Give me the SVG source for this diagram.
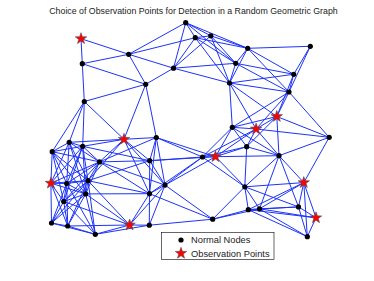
<svg xmlns="http://www.w3.org/2000/svg" xmlns:xlink="http://www.w3.org/1999/xlink" width="374" height="281" viewBox="0 0 374 281">
<style>
.e line{stroke:#1c33fa;stroke-width:1;fill:none}
.nd{fill:#000}
.st{fill:#ff0000;stroke:#505050;stroke-width:0.6}
.t{font-family:"Liberation Sans",Arial,sans-serif;fill:#222}
</style>
<defs>
<path id="star" d="M0,-6 L1.41,-1.94 L5.71,-1.85 L2.28,0.74 L3.53,4.85 L0,2.4 L-3.53,4.85 L-2.28,0.74 L-5.71,-1.85 L-1.41,-1.94 Z"/>
</defs>
<rect width="374" height="281" fill="#fff"/>
<text class="t" x="193.5" y="14" font-size="8.8" text-anchor="middle">Choice of Observation Points for Detection in a Random Geometric Graph</text>
<g id="connectors" class="e">
<line x1="81" y1="38.7" x2="128.7" y2="54.3"/>
<line x1="81" y1="38.7" x2="82.3" y2="63.7"/>
<line x1="128.7" y1="54.3" x2="82.3" y2="63.7"/>
<line x1="128.7" y1="54.3" x2="185.7" y2="22.7"/>
<line x1="128.7" y1="54.3" x2="173.5" y2="68.2"/>
<line x1="128.7" y1="54.3" x2="145.7" y2="84.3"/>
<line x1="128.7" y1="54.3" x2="195.3" y2="37.7"/>
<line x1="82.3" y1="63.7" x2="145.7" y2="84.3"/>
<line x1="82.3" y1="63.7" x2="84.3" y2="101.5"/>
<line x1="185.7" y1="22.7" x2="173.5" y2="68.2"/>
<line x1="185.7" y1="22.7" x2="195.3" y2="37.7"/>
<line x1="185.7" y1="22.7" x2="210.8" y2="35.8"/>
<line x1="185.7" y1="22.7" x2="247.7" y2="48.3"/>
<line x1="185.7" y1="22.7" x2="235.7" y2="63.3"/>
<line x1="173.5" y1="68.2" x2="145.7" y2="84.3"/>
<line x1="173.5" y1="68.2" x2="195.3" y2="37.7"/>
<line x1="173.5" y1="68.2" x2="210.8" y2="35.8"/>
<line x1="173.5" y1="68.2" x2="235.7" y2="63.3"/>
<line x1="173.5" y1="68.2" x2="229.5" y2="83"/>
<line x1="145.7" y1="84.3" x2="84.3" y2="101.5"/>
<line x1="145.7" y1="84.3" x2="124" y2="139.3"/>
<line x1="145.7" y1="84.3" x2="156.3" y2="137.5"/>
<line x1="84.3" y1="101.5" x2="52.2" y2="151.7"/>
<line x1="84.3" y1="101.5" x2="69.2" y2="142.3"/>
<line x1="84.3" y1="101.5" x2="82.7" y2="146.3"/>
<line x1="84.3" y1="101.5" x2="124" y2="139.3"/>
<line x1="195.3" y1="37.7" x2="210.8" y2="35.8"/>
<line x1="195.3" y1="37.7" x2="247.7" y2="48.3"/>
<line x1="195.3" y1="37.7" x2="235.7" y2="63.3"/>
<line x1="195.3" y1="37.7" x2="229.5" y2="83"/>
<line x1="210.8" y1="35.8" x2="247.7" y2="48.3"/>
<line x1="210.8" y1="35.8" x2="235.7" y2="63.3"/>
<line x1="210.8" y1="35.8" x2="229.5" y2="83"/>
<line x1="247.7" y1="48.3" x2="310.3" y2="46.3"/>
<line x1="247.7" y1="48.3" x2="235.7" y2="63.3"/>
<line x1="247.7" y1="48.3" x2="293.7" y2="74.3"/>
<line x1="247.7" y1="48.3" x2="229.5" y2="83"/>
<line x1="247.7" y1="48.3" x2="289" y2="92"/>
<line x1="310.3" y1="46.3" x2="293.7" y2="74.3"/>
<line x1="310.3" y1="46.3" x2="289" y2="92"/>
<line x1="235.7" y1="63.3" x2="293.7" y2="74.3"/>
<line x1="235.7" y1="63.3" x2="229.5" y2="83"/>
<line x1="235.7" y1="63.3" x2="289" y2="92"/>
<line x1="293.7" y1="74.3" x2="229.5" y2="83"/>
<line x1="293.7" y1="74.3" x2="289" y2="92"/>
<line x1="293.7" y1="74.3" x2="276.8" y2="116.5"/>
<line x1="229.5" y1="83" x2="289" y2="92"/>
<line x1="229.5" y1="83" x2="276.8" y2="116.5"/>
<line x1="229.5" y1="83" x2="232.3" y2="127.3"/>
<line x1="229.5" y1="83" x2="256.1" y2="129"/>
<line x1="289" y1="92" x2="276.8" y2="116.5"/>
<line x1="289" y1="92" x2="232.3" y2="127.3"/>
<line x1="289" y1="92" x2="256.1" y2="129"/>
<line x1="289" y1="92" x2="329.2" y2="137.3"/>
<line x1="276.8" y1="116.5" x2="232.3" y2="127.3"/>
<line x1="276.8" y1="116.5" x2="256.1" y2="129"/>
<line x1="276.8" y1="116.5" x2="329.2" y2="137.3"/>
<line x1="276.8" y1="116.5" x2="246.7" y2="146.7"/>
<line x1="276.8" y1="116.5" x2="279" y2="155.7"/>
<line x1="232.3" y1="127.3" x2="256.1" y2="129"/>
<line x1="232.3" y1="127.3" x2="246.7" y2="146.7"/>
<line x1="232.3" y1="127.3" x2="202.5" y2="157"/>
<line x1="232.3" y1="127.3" x2="215.5" y2="156.7"/>
<line x1="232.3" y1="127.3" x2="279" y2="155.7"/>
<line x1="256.1" y1="129" x2="329.2" y2="137.3"/>
<line x1="256.1" y1="129" x2="246.7" y2="146.7"/>
<line x1="256.1" y1="129" x2="202.5" y2="157"/>
<line x1="256.1" y1="129" x2="215.5" y2="156.7"/>
<line x1="256.1" y1="129" x2="279" y2="155.7"/>
<line x1="329.2" y1="137.3" x2="279" y2="155.7"/>
<line x1="329.2" y1="137.3" x2="303.8" y2="182.6"/>
<line x1="246.7" y1="146.7" x2="202.5" y2="157"/>
<line x1="246.7" y1="146.7" x2="215.5" y2="156.7"/>
<line x1="246.7" y1="146.7" x2="279" y2="155.7"/>
<line x1="246.7" y1="146.7" x2="244.8" y2="186.8"/>
<line x1="202.5" y1="157" x2="215.5" y2="156.7"/>
<line x1="202.5" y1="157" x2="244.8" y2="186.8"/>
<line x1="202.5" y1="157" x2="156.3" y2="137.5"/>
<line x1="202.5" y1="157" x2="149.7" y2="160.7"/>
<line x1="202.5" y1="157" x2="165" y2="185.1"/>
<line x1="202.5" y1="157" x2="149.5" y2="193.7"/>
<line x1="215.5" y1="156.7" x2="279" y2="155.7"/>
<line x1="215.5" y1="156.7" x2="244.8" y2="186.8"/>
<line x1="215.5" y1="156.7" x2="156.3" y2="137.5"/>
<line x1="215.5" y1="156.7" x2="149.7" y2="160.7"/>
<line x1="215.5" y1="156.7" x2="165" y2="185.1"/>
<line x1="279" y1="155.7" x2="244.8" y2="186.8"/>
<line x1="279" y1="155.7" x2="303.8" y2="182.6"/>
<line x1="279" y1="155.7" x2="259.5" y2="208.8"/>
<line x1="279" y1="155.7" x2="298.5" y2="206.9"/>
<line x1="244.8" y1="186.8" x2="303.8" y2="182.6"/>
<line x1="244.8" y1="186.8" x2="248.3" y2="209.7"/>
<line x1="244.8" y1="186.8" x2="259.5" y2="208.8"/>
<line x1="244.8" y1="186.8" x2="298.5" y2="206.9"/>
<line x1="244.8" y1="186.8" x2="212.7" y2="219.2"/>
<line x1="303.8" y1="182.6" x2="248.3" y2="209.7"/>
<line x1="303.8" y1="182.6" x2="259.5" y2="208.8"/>
<line x1="303.8" y1="182.6" x2="298.5" y2="206.9"/>
<line x1="303.8" y1="182.6" x2="316" y2="217.8"/>
<line x1="303.8" y1="182.6" x2="307.3" y2="236.7"/>
<line x1="248.3" y1="209.7" x2="259.5" y2="208.8"/>
<line x1="248.3" y1="209.7" x2="298.5" y2="206.9"/>
<line x1="248.3" y1="209.7" x2="316" y2="217.8"/>
<line x1="248.3" y1="209.7" x2="212.7" y2="219.2"/>
<line x1="248.3" y1="209.7" x2="307.3" y2="236.7"/>
<line x1="259.5" y1="208.8" x2="298.5" y2="206.9"/>
<line x1="259.5" y1="208.8" x2="316" y2="217.8"/>
<line x1="259.5" y1="208.8" x2="212.7" y2="219.2"/>
<line x1="259.5" y1="208.8" x2="307.3" y2="236.7"/>
<line x1="298.5" y1="206.9" x2="316" y2="217.8"/>
<line x1="298.5" y1="206.9" x2="307.3" y2="236.7"/>
<line x1="316" y1="217.8" x2="307.3" y2="236.7"/>
<line x1="212.7" y1="219.2" x2="165" y2="185.1"/>
<line x1="212.7" y1="219.2" x2="149.5" y2="193.7"/>
<line x1="212.7" y1="219.2" x2="149.3" y2="225.2"/>
<line x1="52.2" y1="151.7" x2="69.2" y2="142.3"/>
<line x1="52.2" y1="151.7" x2="82.7" y2="146.3"/>
<line x1="52.2" y1="151.7" x2="99.5" y2="161.9"/>
<line x1="52.2" y1="151.7" x2="50.9" y2="183.2"/>
<line x1="52.2" y1="151.7" x2="66.7" y2="183.5"/>
<line x1="52.2" y1="151.7" x2="88" y2="180.7"/>
<line x1="52.2" y1="151.7" x2="85.7" y2="193.9"/>
<line x1="52.2" y1="151.7" x2="63.7" y2="201.5"/>
<line x1="69.2" y1="142.3" x2="82.7" y2="146.3"/>
<line x1="69.2" y1="142.3" x2="124" y2="139.3"/>
<line x1="69.2" y1="142.3" x2="99.5" y2="161.9"/>
<line x1="69.2" y1="142.3" x2="50.9" y2="183.2"/>
<line x1="69.2" y1="142.3" x2="66.7" y2="183.5"/>
<line x1="69.2" y1="142.3" x2="88" y2="180.7"/>
<line x1="69.2" y1="142.3" x2="85.7" y2="193.9"/>
<line x1="82.7" y1="146.3" x2="124" y2="139.3"/>
<line x1="82.7" y1="146.3" x2="99.5" y2="161.9"/>
<line x1="82.7" y1="146.3" x2="149.7" y2="160.7"/>
<line x1="82.7" y1="146.3" x2="50.9" y2="183.2"/>
<line x1="82.7" y1="146.3" x2="66.7" y2="183.5"/>
<line x1="82.7" y1="146.3" x2="88" y2="180.7"/>
<line x1="82.7" y1="146.3" x2="85.7" y2="193.9"/>
<line x1="82.7" y1="146.3" x2="63.7" y2="201.5"/>
<line x1="124" y1="139.3" x2="156.3" y2="137.5"/>
<line x1="124" y1="139.3" x2="99.5" y2="161.9"/>
<line x1="124" y1="139.3" x2="149.7" y2="160.7"/>
<line x1="124" y1="139.3" x2="88" y2="180.7"/>
<line x1="124" y1="139.3" x2="165" y2="185.1"/>
<line x1="124" y1="139.3" x2="149.5" y2="193.7"/>
<line x1="156.3" y1="137.5" x2="99.5" y2="161.9"/>
<line x1="156.3" y1="137.5" x2="149.7" y2="160.7"/>
<line x1="156.3" y1="137.5" x2="165" y2="185.1"/>
<line x1="156.3" y1="137.5" x2="149.5" y2="193.7"/>
<line x1="99.5" y1="161.9" x2="149.7" y2="160.7"/>
<line x1="99.5" y1="161.9" x2="50.9" y2="183.2"/>
<line x1="99.5" y1="161.9" x2="66.7" y2="183.5"/>
<line x1="99.5" y1="161.9" x2="88" y2="180.7"/>
<line x1="99.5" y1="161.9" x2="165" y2="185.1"/>
<line x1="99.5" y1="161.9" x2="85.7" y2="193.9"/>
<line x1="99.5" y1="161.9" x2="149.5" y2="193.7"/>
<line x1="99.5" y1="161.9" x2="63.7" y2="201.5"/>
<line x1="149.7" y1="160.7" x2="88" y2="180.7"/>
<line x1="149.7" y1="160.7" x2="165" y2="185.1"/>
<line x1="149.7" y1="160.7" x2="149.5" y2="193.7"/>
<line x1="50.9" y1="183.2" x2="66.7" y2="183.5"/>
<line x1="50.9" y1="183.2" x2="88" y2="180.7"/>
<line x1="50.9" y1="183.2" x2="85.7" y2="193.9"/>
<line x1="50.9" y1="183.2" x2="63.7" y2="201.5"/>
<line x1="50.9" y1="183.2" x2="51.5" y2="223"/>
<line x1="50.9" y1="183.2" x2="67.7" y2="226"/>
<line x1="66.7" y1="183.5" x2="88" y2="180.7"/>
<line x1="66.7" y1="183.5" x2="85.7" y2="193.9"/>
<line x1="66.7" y1="183.5" x2="63.7" y2="201.5"/>
<line x1="66.7" y1="183.5" x2="51.5" y2="223"/>
<line x1="66.7" y1="183.5" x2="67.7" y2="226"/>
<line x1="66.7" y1="183.5" x2="95.3" y2="234.3"/>
<line x1="88" y1="180.7" x2="85.7" y2="193.9"/>
<line x1="88" y1="180.7" x2="149.5" y2="193.7"/>
<line x1="88" y1="180.7" x2="63.7" y2="201.5"/>
<line x1="88" y1="180.7" x2="51.5" y2="223"/>
<line x1="88" y1="180.7" x2="67.7" y2="226"/>
<line x1="88" y1="180.7" x2="95.3" y2="234.3"/>
<line x1="88" y1="180.7" x2="129.6" y2="225"/>
<line x1="165" y1="185.1" x2="149.5" y2="193.7"/>
<line x1="165" y1="185.1" x2="129.6" y2="225"/>
<line x1="165" y1="185.1" x2="149.3" y2="225.2"/>
<line x1="85.7" y1="193.9" x2="149.5" y2="193.7"/>
<line x1="85.7" y1="193.9" x2="63.7" y2="201.5"/>
<line x1="85.7" y1="193.9" x2="51.5" y2="223"/>
<line x1="85.7" y1="193.9" x2="67.7" y2="226"/>
<line x1="85.7" y1="193.9" x2="95.3" y2="234.3"/>
<line x1="85.7" y1="193.9" x2="129.6" y2="225"/>
<line x1="149.5" y1="193.7" x2="129.6" y2="225"/>
<line x1="149.5" y1="193.7" x2="149.3" y2="225.2"/>
<line x1="63.7" y1="201.5" x2="51.5" y2="223"/>
<line x1="63.7" y1="201.5" x2="67.7" y2="226"/>
<line x1="63.7" y1="201.5" x2="95.3" y2="234.3"/>
<line x1="63.7" y1="201.5" x2="129.6" y2="225"/>
<line x1="51.5" y1="223" x2="67.7" y2="226"/>
<line x1="51.5" y1="223" x2="95.3" y2="234.3"/>
<line x1="67.7" y1="226" x2="95.3" y2="234.3"/>
<line x1="67.7" y1="226" x2="129.6" y2="225"/>
<line x1="95.3" y1="234.3" x2="129.6" y2="225"/>
<line x1="95.3" y1="234.3" x2="149.3" y2="225.2"/>
<line x1="129.6" y1="225" x2="149.3" y2="225.2"/>
</g>
<g id="nodes">
<g id="n1"><use xlink:href="#star" href="#star" class="st" x="81" y="38.7"/></g>
<g id="n2"><circle class="nd" cx="128.7" cy="54.3" r="2.6"/></g>
<g id="n3"><circle class="nd" cx="82.3" cy="63.7" r="2.6"/></g>
<g id="n4"><circle class="nd" cx="185.7" cy="22.7" r="2.6"/></g>
<g id="n5"><circle class="nd" cx="173.5" cy="68.2" r="2.6"/></g>
<g id="n6"><circle class="nd" cx="145.7" cy="84.3" r="2.6"/></g>
<g id="n7"><circle class="nd" cx="84.3" cy="101.5" r="2.6"/></g>
<g id="n8"><circle class="nd" cx="195.3" cy="37.7" r="2.6"/></g>
<g id="n9"><circle class="nd" cx="210.8" cy="35.8" r="2.6"/></g>
<g id="n10"><circle class="nd" cx="247.7" cy="48.3" r="2.6"/></g>
<g id="n11"><circle class="nd" cx="310.3" cy="46.3" r="2.6"/></g>
<g id="n12"><circle class="nd" cx="235.7" cy="63.3" r="2.6"/></g>
<g id="n13"><circle class="nd" cx="293.7" cy="74.3" r="2.6"/></g>
<g id="n14"><circle class="nd" cx="229.5" cy="83" r="2.6"/></g>
<g id="n15"><circle class="nd" cx="289" cy="92" r="2.6"/></g>
<g id="n16"><use xlink:href="#star" href="#star" class="st" x="276.8" y="116.5"/></g>
<g id="n17"><circle class="nd" cx="232.3" cy="127.3" r="2.6"/></g>
<g id="n18"><use xlink:href="#star" href="#star" class="st" x="256.1" y="129"/></g>
<g id="n19"><circle class="nd" cx="329.2" cy="137.3" r="2.6"/></g>
<g id="n20"><circle class="nd" cx="246.7" cy="146.7" r="2.6"/></g>
<g id="n21"><circle class="nd" cx="202.5" cy="157" r="2.6"/></g>
<g id="n22"><use xlink:href="#star" href="#star" class="st" x="215.5" y="156.7"/></g>
<g id="n23"><circle class="nd" cx="279" cy="155.7" r="2.6"/></g>
<g id="n24"><circle class="nd" cx="244.8" cy="186.8" r="2.6"/></g>
<g id="n25"><use xlink:href="#star" href="#star" class="st" x="303.8" y="182.6"/></g>
<g id="n26"><circle class="nd" cx="248.3" cy="209.7" r="2.6"/></g>
<g id="n27"><circle class="nd" cx="259.5" cy="208.8" r="2.6"/></g>
<g id="n28"><circle class="nd" cx="298.5" cy="206.9" r="2.6"/></g>
<g id="n29"><use xlink:href="#star" href="#star" class="st" x="316" y="217.8"/></g>
<g id="n30"><circle class="nd" cx="212.7" cy="219.2" r="2.6"/></g>
<g id="n31"><circle class="nd" cx="307.3" cy="236.7" r="2.6"/></g>
<g id="n32"><circle class="nd" cx="52.2" cy="151.7" r="2.6"/></g>
<g id="n33"><circle class="nd" cx="69.2" cy="142.3" r="2.6"/></g>
<g id="n34"><circle class="nd" cx="82.7" cy="146.3" r="2.6"/></g>
<g id="n35"><use xlink:href="#star" href="#star" class="st" x="124" y="139.3"/></g>
<g id="n36"><circle class="nd" cx="156.3" cy="137.5" r="2.6"/></g>
<g id="n37"><circle class="nd" cx="99.5" cy="161.9" r="2.6"/></g>
<g id="n38"><circle class="nd" cx="149.7" cy="160.7" r="2.6"/></g>
<g id="n39"><use xlink:href="#star" href="#star" class="st" x="50.9" y="183.2"/></g>
<g id="n40"><circle class="nd" cx="66.7" cy="183.5" r="2.6"/></g>
<g id="n41"><circle class="nd" cx="88" cy="180.7" r="2.6"/></g>
<g id="n42"><circle class="nd" cx="165" cy="185.1" r="2.6"/></g>
<g id="n43"><circle class="nd" cx="85.7" cy="193.9" r="2.6"/></g>
<g id="n44"><circle class="nd" cx="149.5" cy="193.7" r="2.6"/></g>
<g id="n45"><circle class="nd" cx="63.7" cy="201.5" r="2.6"/></g>
<g id="n46"><circle class="nd" cx="51.5" cy="223" r="2.6"/></g>
<g id="n47"><circle class="nd" cx="67.7" cy="226" r="2.6"/></g>
<g id="n48"><circle class="nd" cx="95.3" cy="234.3" r="2.6"/></g>
<g id="n49"><use xlink:href="#star" href="#star" class="st" x="129.6" y="225"/></g>
<g id="n50"><circle class="nd" cx="149.3" cy="225.2" r="2.6"/></g>
</g>
<g id="legend">
<rect x="161.5" y="232.5" width="112.5" height="27" fill="#fff" stroke="#000" stroke-width="0.6"/>
<circle class="nd" cx="181" cy="240" r="2.6"/>
<use xlink:href="#star" href="#star" class="st" x="181" y="253.3"/>
<text class="t" x="191" y="243.3" font-size="9.3">Normal Nodes</text>
<text class="t" x="191" y="256.6" font-size="9.3">Observation Points</text>
</g>
</svg>
